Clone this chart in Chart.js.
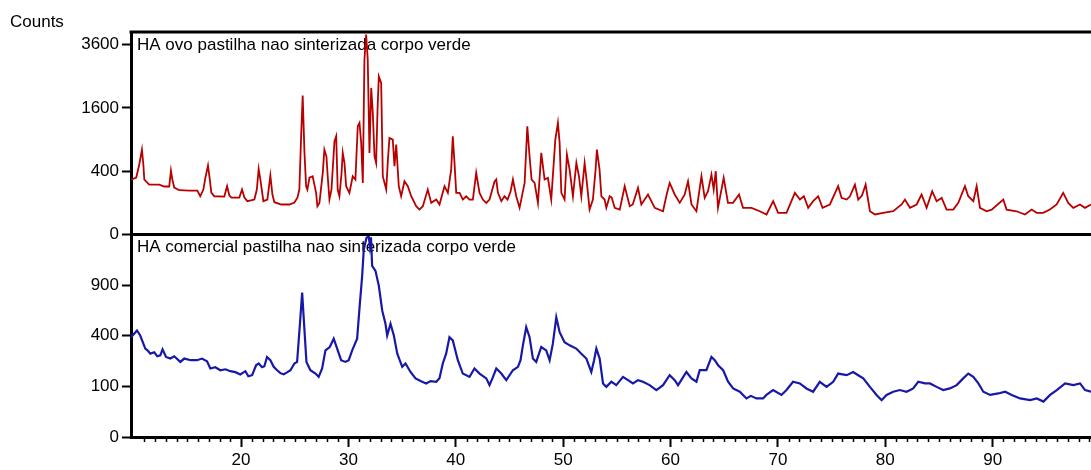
<!DOCTYPE html>
<html>
<head>
<meta charset="utf-8">
<title>HA pastilha nao sinterizada - DRX</title>
<script src="https://cdn.jsdelivr.net/npm/chart.js@4.4.1/dist/chart.umd.min.js"></script>
<style>
  html, body { margin: 0; padding: 0; background: #fff; }
  #wrap { width: 1091px; height: 470px; position: relative; }
</style>
</head>
<body>
<div id="wrap"><canvas id="xrd" width="1091" height="470"></canvas></div>
<script>
// 2-theta positions (degrees) and intensities (counts) for each pattern
const ovoAngles = [9.75,10.24,10.52,10.77,10.9,10.99,11.45,12.38,12.85,13.31,13.47,13.6,13.78,14.25,15.18,15.93,16.2,16.49,16.68,16.92,17.09,17.23,17.51,18.44,18.7,18.91,19.1,19.84,20.09,20.31,20.59,21.24,21.47,21.64,21.8,22.08,22.45,22.73,22.92,23.1,23.76,24.5,24.97,25.25,25.43,25.59,25.74,25.9,26.06,26.18,26.37,26.67,26.83,26.99,27.11,27.3,27.61,27.76,27.95,28.07,28.23,28.42,28.7,28.86,29.0,29.16,29.35,29.47,29.63,29.79,30.09,30.4,30.65,30.87,31.03,31.19,31.34,31.49,31.65,31.8,31.96,32.12,32.27,32.43,32.58,32.71,32.83,33.05,33.2,33.52,33.68,33.82,34.13,34.29,34.45,34.69,34.91,35.22,35.53,35.85,36.31,36.62,36.93,37.39,37.71,38.18,38.48,38.95,39.26,39.57,39.72,39.88,40.04,40.35,40.66,40.97,41.28,41.59,41.9,42.21,42.52,42.84,43.14,43.61,43.77,43.92,44.24,44.54,44.82,45.1,45.32,45.63,45.94,46.41,46.66,46.87,47.06,47.34,47.65,47.96,48.27,48.58,48.89,49.27,49.51,49.67,49.83,50.13,50.35,50.6,50.91,51.23,51.47,51.69,52.0,52.21,52.46,52.77,53.02,53.14,53.39,53.56,53.86,54.02,54.33,54.52,54.8,55.27,55.73,56.2,56.48,56.97,57.28,57.9,58.53,59.3,59.64,59.92,60.39,60.86,61.32,61.63,61.95,62.41,62.88,63.18,63.49,63.81,64.02,64.21,64.42,64.95,65.35,65.82,66.38,66.75,67.54,68.31,68.94,69.56,70.02,70.8,71.58,72.05,72.42,72.82,73.28,73.75,74.16,74.84,75.61,75.93,76.4,76.71,77.17,77.48,77.83,78.17,78.57,79.04,79.8,80.74,81.52,81.83,82.3,82.92,83.38,83.85,84.37,84.78,85.25,85.71,86.33,86.8,87.42,87.73,88.2,88.51,88.82,89.44,89.91,90.99,91.3,92.23,93.01,93.63,94.1,94.71,95.33,95.96,96.57,97.04,97.51,98.13,98.6,99.16];
const ovoCounts = [300,324,489,720,489,302,249,249,230,230,408,302,220,196,193,193,146,202,324,475,302,176,146,144,233,152,136,136,202,136,111,122,202,430,302,111,122,347,160,104,90,90,102,136,202,932,1926,692,233,202,324,339,249,173,80,100,380,720,611,339,122,202,868,963,202,146,359,665,512,233,173,339,302,1169,1244,838,266,3053,3990,3053,665,2146,1477,611,512,1558,2498,2294,339,202,561,932,900,465,808,233,146,283,233,146,80,62,80,202,100,122,90,233,173,421,963,512,173,173,122,146,122,122,380,173,122,100,122,280,302,176,111,146,122,184,302,146,71,266,1169,611,302,266,100,665,302,320,122,900,1244,838,173,122,638,421,146,512,339,146,512,266,62,122,421,720,421,146,122,71,146,136,71,62,233,80,90,217,90,160,71,54,160,266,160,100,160,283,90,54,339,134,187,359,202,400,71,320,100,100,160,71,71,54,40,111,47,47,173,122,146,71,111,146,71,90,233,134,122,146,249,122,152,249,54,40,47,54,90,122,71,90,160,71,187,111,134,62,62,100,233,146,111,233,71,54,62,122,62,54,40,62,47,47,62,90,173,100,71,90,71,90];

const comAngles = [9.75,10.31,10.61,11.08,11.29,11.55,11.92,12.2,12.48,12.69,13.01,13.41,13.78,14.34,14.71,15.34,15.9,16.36,16.83,17.14,17.6,18.07,18.54,19.0,19.47,19.93,20.4,20.68,21.03,21.4,21.64,21.96,22.17,22.42,22.73,23.04,23.36,23.66,23.97,24.32,24.6,24.97,25.22,25.46,25.69,25.84,26.09,26.46,26.93,27.23,27.55,27.86,28.26,28.63,28.95,29.32,29.72,30.03,30.35,30.81,31.05,31.28,31.43,31.68,31.89,32.0,32.1,32.21,32.52,32.83,33.15,33.45,33.61,33.92,34.23,34.55,35.01,35.32,35.78,36.25,36.72,37.24,37.65,38.18,38.48,38.79,39.1,39.41,39.72,40.19,40.65,41.28,41.74,42.21,42.84,43.14,43.42,43.77,44.24,44.7,45.32,45.79,46.03,46.25,46.56,46.87,47.18,47.49,47.96,48.42,48.74,49.04,49.36,49.67,50.13,50.6,51.22,51.69,52.16,52.62,52.88,53.09,53.4,53.71,54.02,54.49,54.95,55.57,56.04,56.5,56.97,57.43,58.05,58.68,59.3,59.92,60.39,60.7,61.48,61.95,62.41,62.72,63.34,63.81,64.12,64.43,64.9,65.36,65.83,66.45,67.07,67.48,68.0,68.62,68.93,69.55,70.33,70.8,71.41,72.04,72.66,73.28,73.9,74.53,75.15,75.61,76.4,77.01,77.48,77.95,78.57,79.19,79.66,80.12,80.74,81.36,81.98,82.6,83.07,83.69,84.16,84.78,85.4,86.02,86.65,87.26,87.73,88.2,88.67,89.13,89.76,90.53,91.16,91.78,92.55,93.49,94.11,94.73,95.35,95.97,96.75,97.52,98.14,98.61,99.16];
const comCounts = [389,443,402,305,293,271,280,254,260,300,250,240,254,220,240,230,230,240,224,183,190,174,179,169,164,153,169,144,149,201,211,190,195,250,230,192,174,159,153,164,174,211,220,470,815,544,220,174,157,141,183,293,316,377,305,230,220,230,293,377,673,1013,1373,1547,1573,1422,1558,1141,1077,892,623,500,402,500,402,271,192,211,165,134,122,112,122,119,135,211,271,389,364,230,157,141,183,157,134,105,135,183,157,126,174,192,230,328,470,389,240,220,316,293,230,340,559,429,351,328,305,271,240,165,230,305,240,112,98,119,105,141,126,112,126,119,105,86,105,149,126,105,165,134,119,174,174,250,230,201,174,119,92,80,58,66,58,58,69,86,69,86,119,112,92,80,119,98,119,157,149,165,149,134,98,69,53,69,80,86,80,92,119,112,112,98,86,92,105,134,157,141,112,80,69,74,80,69,58,53,58,49,69,86,112,105,112,86,80];

// axis ticks
const angleTicks = [20, 30, 40, 50, 60, 70, 80, 90];
const ovoTicks = [0, 400, 1600, 3600];
const comTicks = [0, 100, 400, 900];

// panel captions
const ovoLabel = 'HA ovo pastilha nao sinterizada corpo verde';
const comLabel = 'HA comercial pastilha nao sinterizada corpo verde';
const yTitle = 'Counts';

const FONT = "'Liberation Sans', Arial, sans-serif";

// square-root intensity axis, as usual for diffraction counts
class SqrtScale extends Chart.LinearScale {
  static id = 'sqrt';
  static defaults = {};
  getPixelForValue(value) {
    const a = Math.sqrt(Math.max(this.min, 0));
    const b = Math.sqrt(Math.max(this.max, 0));
    const s = Math.sqrt(Math.max(value, 0));
    return this.getPixelForDecimal((s - a) / (b - a));
  }
  getValueForPixel(pixel) {
    const a = Math.sqrt(Math.max(this.min, 0));
    const b = Math.sqrt(Math.max(this.max, 0));
    const s = a + this.getDecimalForPixel(pixel) * (b - a);
    return s * s;
  }
}
Chart.register(SqrtScale);

const pts = (xs, ys) => xs.map((x, i) => ({ x, y: ys[i] }));

function intensityAxis(max, ticks) {
  return {
    type: 'sqrt',
    position: 'left',
    stack: 'xrd',
    stackWeight: 1,
    min: 0,
    max: max,
    afterBuildTicks: s => { s.ticks = ticks.map(v => ({ value: v })); },
    afterFit: s => { s.width = 131; },
    ticks: {
      callback: v => String(v),
      color: '#000',
      font: { family: FONT, size: 17 },
      padding: 3,
      autoSkip: false
    },
    grid: { drawOnChartArea: false, drawTicks: true, tickLength: 9, tickWidth: 2, tickColor: '#000' },
    border: { display: true, color: '#000', width: 3 }
  };
}

const framePlugin = {
  id: 'frame',
  beforeDatasetsDraw(chart) {
    const { ctx, chartArea } = chart;
    const top = chart.scales.yTop, bot = chart.scales.yBot;
    ctx.save();
    ctx.fillStyle = '#000';
    ctx.font = '17px ' + FONT;
    ctx.textBaseline = 'alphabetic';
    ctx.textAlign = 'left';
    ctx.fillText(ovoLabel, chartArea.left + 6, top.top + 18);
    ctx.fillText(comLabel, chartArea.left + 6, bot.top + 17);
    ctx.restore();
  },
  afterDatasetsDraw(chart) {
    const { ctx, chartArea } = chart;
    const top = chart.scales.yTop, bot = chart.scales.yBot, xs = chart.scales.x;
    ctx.save();
    ctx.strokeStyle = '#000';
    ctx.lineWidth = 3;
    ctx.beginPath();
    ctx.moveTo(chartArea.left - 1.5, top.top);
    ctx.lineTo(chartArea.right, top.top);
    ctx.moveTo(chartArea.left, bot.top);
    ctx.lineTo(chartArea.right, bot.top);
    ctx.stroke();
    // one-degree minor ticks along the angle axis
    ctx.lineWidth = 1.5;
    ctx.beginPath();
    for (let v = Math.ceil(xs.min); v <= xs.max; v++) {
      if (v % 10 === 0) continue;
      const px = Math.round(xs.getPixelForValue(v)) + 0.5;
      ctx.moveTo(px, xs.top);
      ctx.lineTo(px, xs.top + 5);
    }
    ctx.stroke();
    ctx.fillStyle = '#000';
    ctx.font = '17px ' + FONT;
    ctx.textAlign = 'left';
    ctx.fillText(yTitle, 10, 27);
    ctx.restore();
  }
};

new Chart(document.getElementById('xrd'), {
  type: 'line',
  data: {
    datasets: [
      {
        label: ovoLabel,
        data: pts(ovoAngles, ovoCounts),
        yAxisID: 'yTop',
        borderColor: '#b80000',
        borderWidth: 1.8,
        pointRadius: 0,
        tension: 0,
        fill: false
      },
      {
        label: comLabel,
        data: pts(comAngles, comCounts),
        yAxisID: 'yBot',
        borderColor: '#1818a8',
        borderWidth: 2.2,
        pointRadius: 0,
        tension: 0,
        fill: false
      }
    ]
  },
  options: {
    responsive: false,
    animation: false,
    events: [],
    layout: { padding: { top: 32, left: 0, right: 0, bottom: 0 } },
    plugins: { legend: { display: false }, tooltip: { enabled: false } },
    scales: {
      x: {
        type: 'linear',
        position: 'bottom',
        min: 9.75,
        max: 99.16,
        afterBuildTicks: s => { s.ticks = angleTicks.map(v => ({ value: v })); },
        afterFit: s => { s.height = 33; },
        ticks: {
          callback: v => String(v),
          color: '#000',
          font: { family: FONT, size: 17 },
          padding: 3,
          maxRotation: 0,
          autoSkip: false
        },
        grid: { drawOnChartArea: false, drawTicks: true, tickLength: 10, tickWidth: 2, tickColor: '#000' },
        border: { display: true, color: '#000', width: 3 }
      },
      // left axes in a shared stack: the one listed last sits on top
      yBot: intensityAxis(1600, comTicks),
      yTop: intensityAxis(4096, ovoTicks)
    }
  },
  plugins: [framePlugin]
});
</script>
</body>
</html>
